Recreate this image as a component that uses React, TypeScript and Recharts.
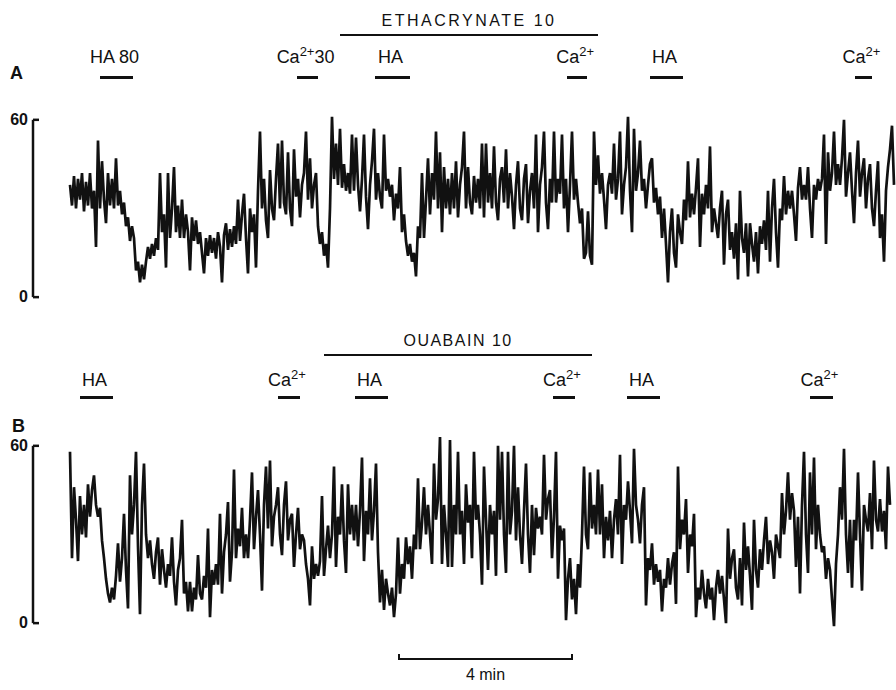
import React from "react";
import { LineChart, Line, XAxis, YAxis, ReferenceLine } from "recharts";

// recorded trace values (0-60 scale), one sample every 2/43.75 min
const traceA = [
  38, 31, 41, 30, 40, 33, 42, 29, 39, 31, 42, 30, 36, 17, 53,
  30, 46, 33, 25, 42, 31, 40, 30, 47, 31, 36, 28, 32, 24, 27,
  19, 24, 20, 9, 12, 5, 11, 6, 12, 17, 13, 18, 14, 20, 16,
  42, 22, 28, 10, 42, 20, 30, 44, 22, 31, 20, 33, 20, 28, 22,
  9, 27, 19, 26, 18, 22, 15, 8, 20, 14, 21, 15, 20, 13, 22,
  17, 5, 21, 25, 16, 23, 17, 24, 18, 33, 19, 28, 35, 20, 8,
  30, 22, 28, 10, 36, 56, 30, 40, 26, 20, 43, 30, 26, 40, 52,
  30, 53, 32, 28, 49, 30, 24, 50, 34, 40, 27, 38, 42, 56, 33,
  47, 30, 38, 42, 24, 18, 22, 14, 18, 10, 30, 61, 40, 52, 38,
  57, 37, 45, 36, 42, 35, 55, 36, 54, 38, 29, 40, 55, 34, 23,
  38, 46, 57, 33, 42, 34, 30, 55, 36, 40, 34, 38, 26, 35, 30,
  44, 22, 28, 19, 14, 18, 12, 15, 7, 24, 20, 42, 20, 33, 47,
  28, 42, 33, 56, 30, 49, 22, 44, 30, 40, 28, 42, 30, 46, 27,
  38, 44, 56, 30, 44, 32, 28, 41, 32, 40, 30, 52, 27, 52, 32,
  42, 30, 51, 32, 26, 40, 44, 32, 50, 30, 42, 34, 23, 38, 46,
  30, 26, 40, 45, 25, 36, 42, 30, 55, 22, 38, 44, 56, 32, 23,
  40, 32, 56, 32, 40, 35, 55, 30, 40, 22, 38, 56, 33, 40, 32,
  25, 30, 13, 15, 29, 14, 11, 56, 38, 48, 35, 42, 33, 23, 38,
  42, 35, 52, 33, 40, 56, 28, 38, 44, 61, 36, 22, 57, 36, 42,
  53, 36, 40, 30, 38, 45, 47, 32, 37, 28, 34, 20, 30, 18, 5,
  22, 30, 15, 10, 28, 22, 18, 33, 26, 46, 27, 35, 28, 37, 47,
  17, 35, 28, 38, 30, 51, 22, 30, 25, 20, 30, 36, 11, 28, 33,
  16, 22, 13, 25, 6, 36, 20, 15, 25, 7, 25, 18, 12, 22, 8,
  24, 18, 26, 16, 36, 12, 30, 40, 22, 10, 30, 26, 41, 28, 36,
  30, 36, 28, 19, 37, 44, 33, 38, 33, 44, 30, 20, 38, 33, 40,
  36, 40, 55, 18, 49, 36, 42, 56, 38, 45, 38, 47, 60, 34, 42,
  49, 36, 25, 42, 53, 34, 42, 47, 30, 40, 45, 30, 24, 36, 46,
  20, 28, 12, 36, 44, 50, 58, 38,
];

const traceB = [
  58, 22, 46, 35, 21, 43, 30, 40, 29, 47, 36, 45, 50, 40, 36,
  39, 28, 22, 15, 10, 7, 12, 8, 16, 27, 14, 22, 37, 18, 5,
  50, 30, 40, 58, 26, 3, 40, 54, 30, 22, 28, 20, 15, 24, 29,
  13, 25, 18, 12, 20, 16, 29, 14, 6, 18, 22, 35, 10, 14, 4,
  14, 4, 12, 8, 23, 10, 8, 16, 12, 32, 2, 18, 13, 20, 13,
  37, 10, 24, 30, 41, 14, 24, 52, 22, 32, 26, 39, 22, 30, 22,
  35, 51, 25, 36, 45, 30, 11, 40, 53, 32, 55, 26, 36, 40, 46,
  30, 23, 40, 48, 28, 35, 37, 19, 30, 39, 25, 30, 28, 20, 15,
  6, 26, 15, 20, 16, 21, 43, 16, 25, 33, 22, 30, 53, 19, 36,
  30, 47, 28, 17, 47, 30, 40, 28, 40, 26, 38, 56, 21, 38, 30,
  49, 28, 38, 54, 24, 7, 18, 4.5, 15, 10, 6, 12, 2, 10, 29,
  10, 20, 15, 29, 20, 26, 15, 30, 25, 49, 25, 34, 46, 30, 40,
  30, 20, 54, 35, 42, 63, 20, 40, 30, 19, 62, 19, 40, 30, 58,
  30, 38, 20, 47, 34, 40, 22, 58, 35, 40, 30, 13, 53, 35, 18,
  40, 30, 38, 16, 60, 35, 58, 30, 17, 58, 30, 38, 60, 28, 46,
  30, 20, 38, 54, 30, 17, 40, 23, 39, 32, 36, 30, 57, 35, 42,
  45, 22, 36, 58, 15, 33, 28, 32, 1, 15, 22, 8, 15, 3, 20,
  12, 30, 53, 30, 25, 51, 32, 40, 30, 52, 30, 47, 22, 36, 28,
  38, 22, 35, 42, 30, 57, 20, 40, 35, 48, 38, 27, 59, 40, 35,
  27, 40, 46, 6, 22, 18, 27, 13, 20, 14, 18, 4, 15, 12, 22,
  13, 20, 24, 6.5, 53, 25, 35, 30, 42, 17, 30, 26, 37, 2, 12,
  8, 18, 10, 5, 15, 8, 12, 1, 12, 18, 10, 16, 8, 0, 32,
  15, 22, 25, 12, 8, 22, 6, 34, 18, 26, 16, 4.5, 35, 18, 12,
  25, 18, 28, 36, 20, 28, 24, 15, 30, 26, 22, 44, 30, 38, 51,
  35, 44, 38, 19, 36, 10, 40, 58, 30, 17, 51, 30, 56, 25, 40,
  30, 24, 26, 15, 22, 18, 8, -1, 20, 30, 46, 35, 59, 30, 17,
  35, 12, 35, 28, 51, 30, 11, 40, 35, 31, 44, 25, 55, 35, 31,
  42, 31, 38, 25, 53, 40,
];

const yTicks = [0, 60];

// event bars, minutes from start of trace
const drugA = { label: "ETHACRYNATE 10", start: 6.17, end: 12.07 };
const drugB = { label: "OUABAIN 10", start: 5.81, end: 11.93 };

const eventsA = [
  { name: "HA", extra: " 80", start: 0.69, end: 1.44 },
  { name: "Ca", extra: "30", start: 5.19, end: 5.67 },
  { name: "HA", extra: "", start: 6.97, end: 7.77 },
  { name: "Ca", extra: "", start: 11.36, end: 11.82 },
  { name: "HA", extra: "", start: 13.26, end: 14.01 },
  { name: "Ca", extra: "", start: 17.94, end: 18.33 },
];

const eventsB = [
  { name: "HA", extra: "", start: 0.23, end: 0.98 },
  { name: "Ca", extra: "", start: 4.75, end: 5.26 },
  { name: "HA", extra: "", start: 6.51, end: 7.27 },
  { name: "Ca", extra: "", start: 11.04, end: 11.54 },
  { name: "HA", extra: "", start: 12.73, end: 13.49 },
  { name: "Ca", extra: "", start: 16.91, end: 17.44 },
];

const scaleBarMin = 4;

const PX_PER_MIN = 43.75;
const T0_X = 70;
const AXIS_X = 33;
const SAMPLE_MIN = 2 / PX_PER_MIN;
const X_MIN = (AXIS_X - T0_X) / PX_PER_MIN;
const X_MAX = (896 - T0_X) / PX_PER_MIN;
const FONT = "'Liberation Sans', Arial, sans-serif";

const toX = (t: number) => T0_X + t * PX_PER_MIN;

function TickLabel(props: any) {
  const { y, payload } = props;
  return (
    <text x={28} y={y} dy={5} textAnchor="end" fontSize={16} fontWeight="bold" fontFamily={FONT} fill="#111">
      {payload.value}
    </text>
  );
}

function Trace({ values, top, height, marginTop }: { values: number[]; top: number; height: number; marginTop: number }) {
  const data = values.map((v, i) => ({ t: i * SAMPLE_MIN, v }));
  const stub = 6 / PX_PER_MIN;
  return (
    <div style={{ position: "absolute", left: 0, top }}>
      <LineChart width={896} height={height} data={data} margin={{ top: marginTop, right: 0, bottom: height - marginTop - 198, left: 0 }}>
        <XAxis dataKey="t" type="number" domain={[X_MIN, X_MAX]} allowDataOverflow hide />
        <YAxis type="number" domain={[-3, 64]} ticks={yTicks} width={AXIS_X} axisLine={false} tickLine={false} tick={<TickLabel />} />
        <ReferenceLine segment={[{ x: X_MIN, y: 0 }, { x: X_MIN, y: 60 }]} stroke="#111" strokeWidth={2.5} />
        <ReferenceLine segment={[{ x: X_MIN, y: 60 }, { x: X_MIN + stub, y: 60 }]} stroke="#111" strokeWidth={2.5} />
        <ReferenceLine segment={[{ x: X_MIN, y: 0 }, { x: X_MIN + stub, y: 0 }]} stroke="#111" strokeWidth={2.5} />
        <Line type="linear" dataKey="v" stroke="#111" strokeWidth={2.7} dot={false} isAnimationActive={false} />
      </LineChart>
    </div>
  );
}

function Bar({ start, end, y, h }: { start: number; end: number; y: number; h: number }) {
  return (
    <div style={{ position: "absolute", left: toX(start), top: y, width: (end - start) * PX_PER_MIN, height: h, background: "#111" }} />
  );
}

function Events({ events, barY, textY }: { events: typeof eventsA; barY: number; textY: number }) {
  return (
    <>
      {events.map((e, i) => (
        <React.Fragment key={i}>
          <Bar start={e.start} end={e.end} y={barY} h={2.5} />
          <div
            style={{
              position: "absolute",
              left: toX((e.start + e.end) / 2) - 2,
              top: textY,
              transform: "translateX(-50%)",
              fontSize: 18,
              fontFamily: FONT,
              color: "#111",
              whiteSpace: "nowrap",
              lineHeight: "20px",
            }}
          >
            {e.name}
            {e.name === "Ca" && <sup style={{ fontSize: 13, verticalAlign: "7px", lineHeight: 0 }}>2+</sup>}
            {e.extra}
          </div>
        </React.Fragment>
      ))}
    </>
  );
}

function DrugLabel({ drug, lineY, textY, spacing }: { drug: typeof drugA; lineY: number; textY: number; spacing: number }) {
  const x0 = toX(drug.start);
  const w = (drug.end - drug.start) * PX_PER_MIN;
  return (
    <>
      <Bar start={drug.start} end={drug.end} y={lineY} h={2} />
      <div
        style={{
          position: "absolute",
          left: x0 + w / 2,
          top: textY,
          transform: "translateX(-50%)",
          fontSize: 16,
          letterSpacing: spacing,
          fontFamily: FONT,
          color: "#111",
          whiteSpace: "nowrap",
          lineHeight: "18px",
        }}
      >
        {drug.label}
      </div>
    </>
  );
}

export default function App() {
  const panelLabel: React.CSSProperties = { position: "absolute", fontSize: 18, lineHeight: "16px", fontWeight: "bold", fontFamily: FONT, color: "#111" };
  return (
    <div style={{ position: "absolute", left: 0, top: 0, width: 896, height: 690, background: "#fff", overflow: "hidden" }}>
      <Trace values={traceA} top={0} height={320} marginTop={108} />
      <Trace values={traceB} top={330} height={310} marginTop={104} />

      <DrugLabel drug={drugA} lineY={34} textY={12} spacing={2.5} />
      <Events events={eventsA} barY={76} textY={47} />
      <div style={{ ...panelLabel, left: 10, top: 65 }}>A</div>

      <DrugLabel drug={drugB} lineY={354} textY={332} spacing={1.5} />
      <Events events={eventsB} barY={396} textY={370} />
      <div style={{ ...panelLabel, left: 12, top: 418 }}>B</div>

      <div
        style={{
          position: "absolute",
          left: 398,
          top: 654,
          width: scaleBarMin * PX_PER_MIN,
          height: 6,
          borderLeft: "2px solid #111",
          borderRight: "2px solid #111",
          borderBottom: "2px solid #111",
          boxSizing: "border-box",
        }}
      />
      <div style={{ position: "absolute", left: 398 + (scaleBarMin * PX_PER_MIN) / 2, top: 666, transform: "translateX(-50%)", fontSize: 16, lineHeight: "18px", fontFamily: FONT, color: "#111" }}>
        {scaleBarMin} min
      </div>
    </div>
  );
}
